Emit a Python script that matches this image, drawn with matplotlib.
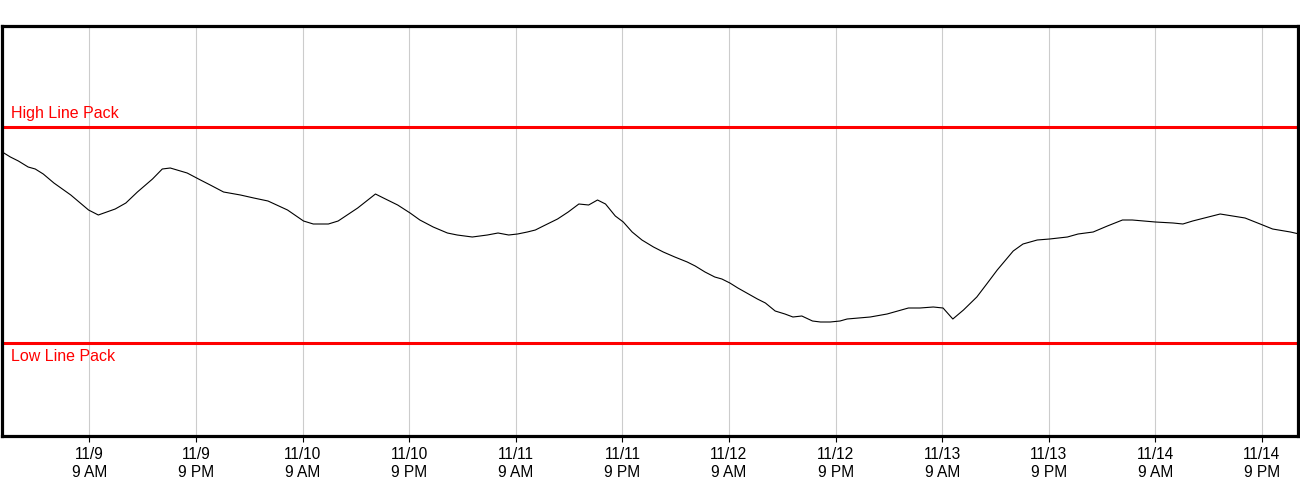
import datetime as dt
import numpy as np
import matplotlib
matplotlib.use("Agg")
import matplotlib.pyplot as plt
import matplotlib.dates as mdates
from matplotlib.ticker import FuncFormatter

# line pack readings, hours after 11/8 11 PM
start = dt.datetime(2023, 11, 8, 23, 0)
hours = [0.0, 1.1, 2.0, 3.1, 3.9, 4.8, 6.0, 7.9, 9.9, 11.0, 12.9, 14.1, 15.4, 17.1,
         18.2, 19.1, 21.0, 22.5, 23.6, 25.1, 27.0, 28.5, 30.1, 32.3, 34.1, 35.2,
         36.9, 38.0, 40.2, 42.2, 43.1, 44.7, 46.1, 47.2, 48.7, 50.3, 51.4, 53.1,
         54.8, 56.0, 57.2, 58.2, 59.3, 60.2, 61.1, 62.7, 63.9, 65.1, 66.2, 67.2,
         68.1, 69.2, 70.1, 71.1, 72.2, 73.5, 74.6, 75.9, 77.3, 78.2, 79.3, 80.4,
         81.2, 82.1, 83.0, 84.2, 85.2, 86.1, 87.2, 88.3, 89.2, 90.2, 91.4, 92.3,
         93.4, 94.5, 95.3, 97.9, 99.8, 102.2, 103.5, 105.0, 106.1, 107.2, 108.4,
         109.9, 111.1, 112.2, 114.0, 115.1, 116.7, 118.1, 120.1, 121.3, 123.0,
         124.6, 126.3, 127.4, 130.0, 132.0, 133.1, 134.2, 137.3, 140.1, 141.8,
         143.2, 145.2, 146.2]
linepack = [285, 279, 275, 269, 267, 262, 253, 241, 226, 221, 227, 233, 244, 257,
            267, 268, 263, 256, 251, 244, 241, 238, 235, 226, 215, 212,
            212, 215, 228, 242, 238, 231, 223, 216, 209, 203, 201, 199,
            201, 203, 201, 202, 204, 206, 210, 217, 224, 232, 231, 236,
            232, 220, 214, 204, 196, 189, 184, 179, 174, 170, 164, 159,
            157, 153, 148, 142, 137, 133, 125, 122, 119, 120, 115, 114,
            114, 115, 117, 119, 122, 128, 128, 129, 128, 117, 126,
            139, 153, 166, 185, 192, 196, 197, 199, 202, 204,
            210, 216, 216, 214, 213, 212, 215, 222, 218, 212,
            207, 204, 202]
high_pack = 309
low_pack = 93

times = [start + dt.timedelta(hours=h) for h in hours]


def tick_fmt(x, pos):
    d = mdates.num2date(x)
    h = d.hour % 12
    if h == 0:
        h = 12
    ampm = "AM" if d.hour < 12 else "PM"
    return "{}/{}\n{} {}".format(d.month, d.day, h, ampm)


plt.rcParams['font.family'] = ['Liberation Sans', 'DejaVu Sans']

fig = plt.figure(figsize=(13, 5), dpi=100)
ax = fig.add_axes([1.5 / 1300, 1 - 436 / 500, 1296.5 / 1300, 410 / 500])

ax.plot(times, linepack, color="black", lw=0.8)
ax.axhline(high_pack, color="red", lw=2.2)
ax.axhline(low_pack, color="red", lw=2.2)
ax.text(start + dt.timedelta(hours=1.2), high_pack + 6, "High Line Pack",
        color="red", fontsize=11.5, va="bottom", ha="left")
ax.text(start + dt.timedelta(hours=1.2), low_pack - 6, "Low Line Pack",
        color="red", fontsize=11.5, va="top", ha="left")

ax.set_xlim(start + dt.timedelta(hours=0.1), start + dt.timedelta(hours=146.06))
ax.set_ylim(0, 410)
ax.xaxis.set_major_locator(mdates.HourLocator(byhour=[9, 21]))
ax.xaxis.set_major_formatter(FuncFormatter(tick_fmt))
ax.grid(axis="x", color="#cccccc", lw=0.8)
ax.set_axisbelow(True)
ax.set_yticks([])
ax.tick_params(axis="x", length=4, width=0.8, labelsize=11.2, pad=4)
for lbl in ax.get_xticklabels():
    lbl.set_linespacing(1.2)
for s in ax.spines.values():
    s.set_linewidth(2.3)

fig.savefig("out.png", dpi=100)
